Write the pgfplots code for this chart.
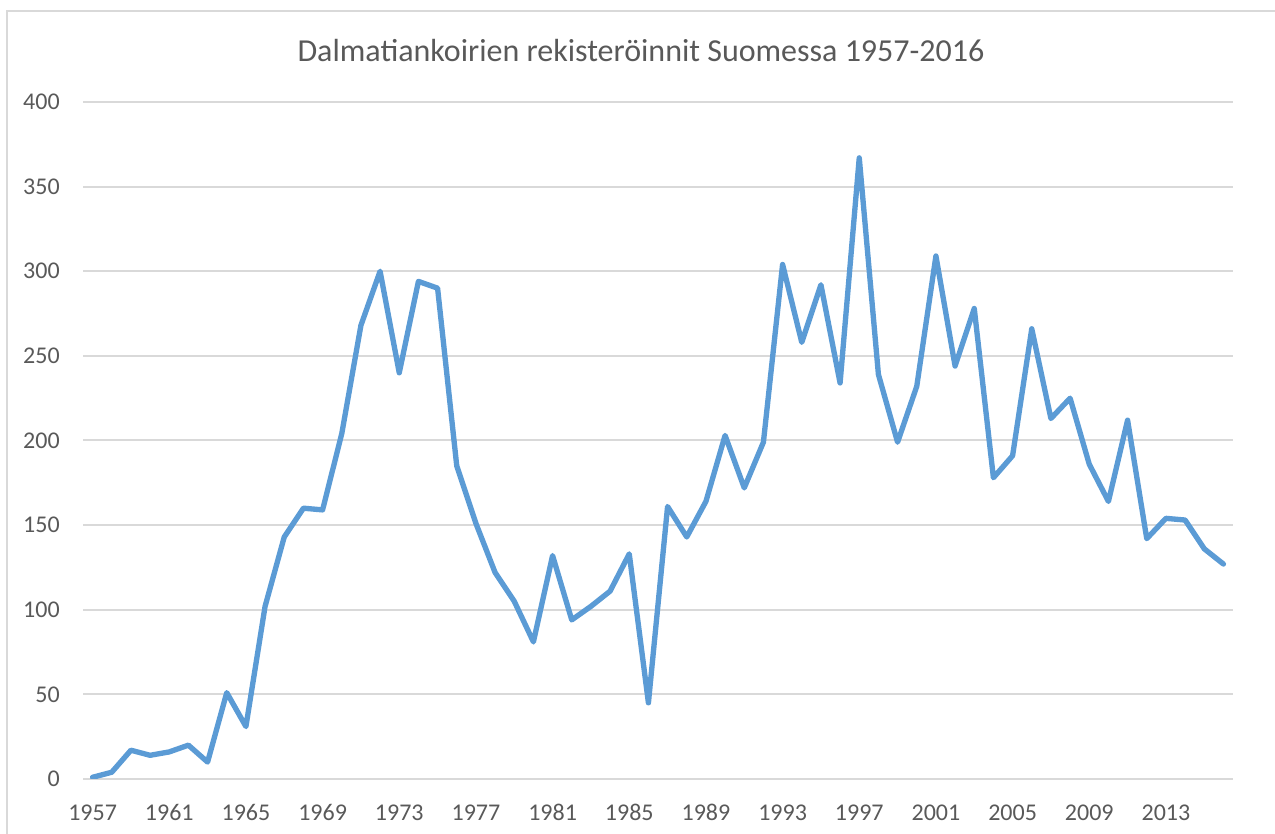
\documentclass[border=0pt]{standalone}
\usepackage{fontspec}
\setmainfont{Carlito}
\usepackage{pgfplots}
\pgfplotsset{compat=1.18}
\definecolor{linecol}{HTML}{5B9BD5}
\definecolor{gridcol}{HTML}{D9D9D9}
\definecolor{txtcol}{HTML}{595959}

\pgfplotstableread{
year count
1957 1
1958 4
1959 17
1960 14
1961 16
1962 20
1963 10
1964 51
1965 31
1966 102
1967 143
1968 160
1969 159
1970 204
1971 268
1972 300
1973 240
1974 294
1975 290
1976 185
1977 151
1978 122
1979 105
1980 81
1981 132
1982 94
1983 102
1984 111
1985 133
1986 45
1987 161
1988 143
1989 164
1990 203
1991 172
1992 199
1993 304
1994 258
1995 292
1996 234
1997 367
1998 239
1999 199
2000 232
2001 309
2002 244
2003 278
2004 178
2005 191
2006 266
2007 213
2008 225
2009 186
2010 164
2011 212
2012 142
2013 154
2014 153
2015 136
2016 127
}\regdata

\begin{document}
\begin{tikzpicture}
% canvas and chart border (1px = 0.75pt)
\path[use as bounding box] (0,0) rectangle (956.25pt,625.5pt);
\draw[gridcol, line width=1.1pt] (5.25pt,0) -- (5.25pt,617.25pt) -- (956.25pt,617.25pt);
\node[txtcol, font=\fontsize{24}{28}\selectfont, inner sep=0pt] at (480.75pt,587.6pt)
  {Dalmatiankoirien rekisteröinnit Suomessa 1957-2016};
\begin{axis}[
    at={(62.25pt,41.25pt)}, anchor=south west,
    scale only axis,
    width=862.5pt, height=507.75pt,
    xmin=1956.5, xmax=2016.5,
    ymin=0, ymax=400,
    xtick={1957,1961,...,2013},
    ytick={0,50,...,400},
    axis line style={draw=none},
    major tick length=0pt,
    ymajorgrids,
    grid style={gridcol, line width=1.5pt},
    tick label style={txtcol, font=\fontsize{18}{21}\selectfont, inner sep=0pt},
    xticklabel style={anchor=north, yshift=-19pt},
    yticklabel style={anchor=east, xshift=-17.25pt},
    /pgf/number format/.cd, 1000 sep={}, assume math mode=true,
]
\addplot[linecol, line width=4pt, line join=round, line cap=round, mark=none]
  table[x=year, y=count] {\regdata};
\end{axis}
\end{tikzpicture}
\end{document}
